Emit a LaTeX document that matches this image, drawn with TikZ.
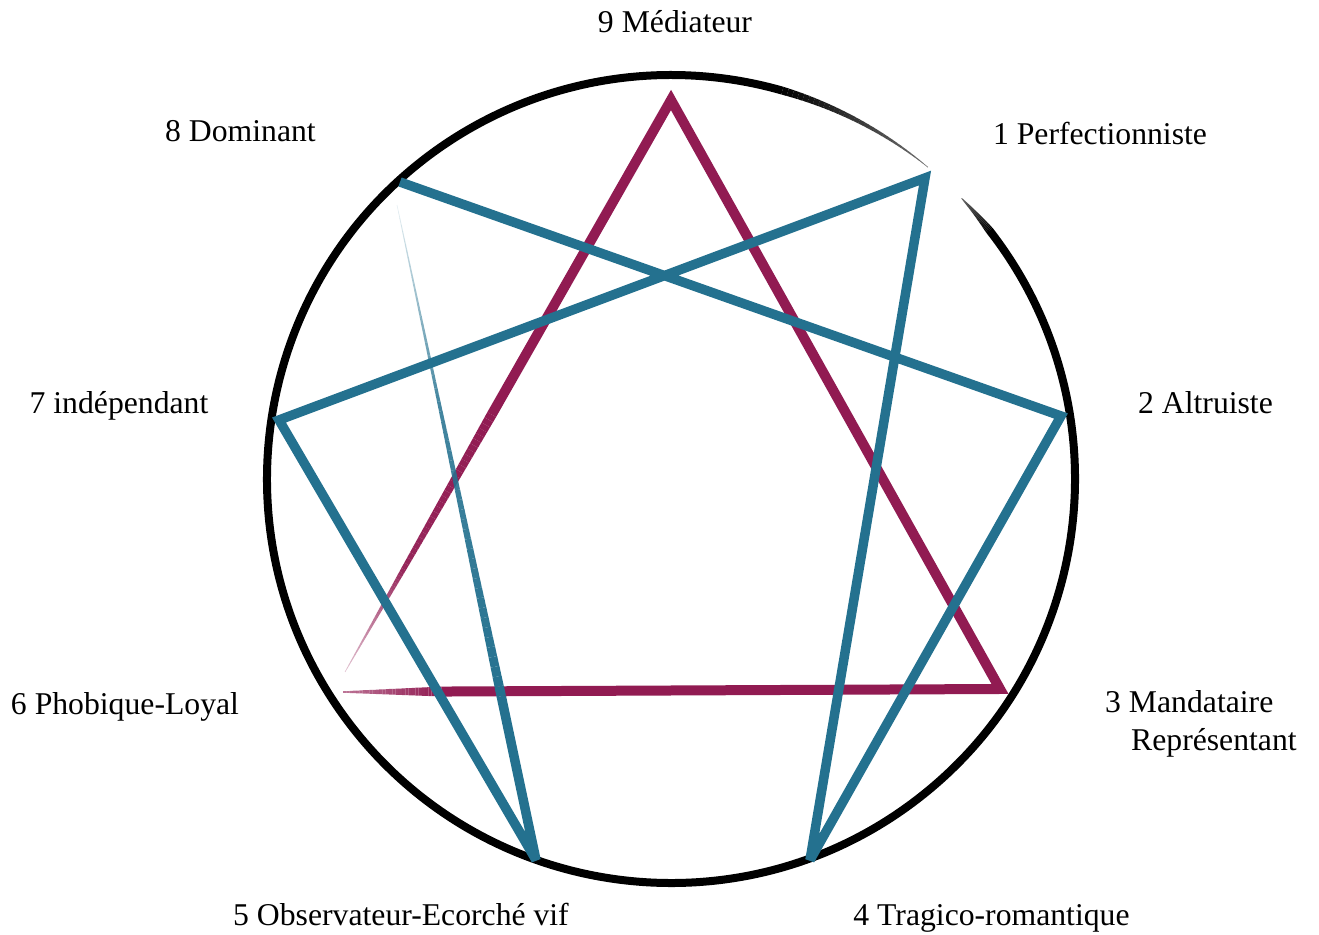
\documentclass[tikz,border=0pt]{standalone}
\usepackage{fontspec}
\setmainfont{Liberation Serif}
\usetikzlibrary{calc}
\definecolor{ennmaroon}{RGB}{145,27,82}
\definecolor{ennteal}{RGB}{36,113,143}
\newcommand\taperline[7]{%
  \foreach \k in {0,...,29}{%
    \pgfmathsetmacro\tA{\k/30}%
    \pgfmathsetmacro\tB{(\k+1)/30}%
    \pgfmathsetmacro\ww{#4+(#5-#4)*(\k+0.5)/30}%
    \pgfmathsetmacro\oo{#6+(#7-#6)*(\k+0.5)/30}%
    \draw[draw=#3, line width=\ww pt, draw opacity=\oo] ($(#1)!\tA!(#2)$) -- ($(#1)!\tB!(#2)$);
  }}
\newcommand\taperarc[6]{%
  \foreach \k in {0,...,29}{%
    \pgfmathsetmacro\aA{#1+(#2-#1)*\k/30}%
    \pgfmathsetmacro\dA{(#2-#1)/30}%
    \pgfmathsetmacro\ww{#3+(#4-#3)*(\k+0.5)/30}%
    \pgfmathsetmacro\oo{#5+(#6-#5)*(\k+0.5)/30}%
    \draw[black, line width=\ww pt, draw opacity=\oo] ($(c)+(\aA:404pt)$) arc[start angle=\aA, delta angle=\dA, radius=404pt];
  }}
\begin{document}
\begin{tikzpicture}[x=1pt,y=1pt,
  lbl/.style={font=\fontsize{31.7}{38}\selectfont, inner sep=0pt, anchor=base},
  lblw/.style={lbl, anchor=base west},
  tealline/.style={draw=ennteal, line width=9.5pt, line join=miter, miter limit=3},
  maroonline/.style={draw=ennmaroon, line width=10pt, line join=miter, miter limit=3},
  ring/.style={draw=black, line width=8pt}]
\useasboundingbox (0,0) rectangle (1319,934);
\coordinate (c) at (671,455);
% teal points
\coordinate (p1) at (925,756);
\coordinate (p2) at (1061,518);
\coordinate (p4) at (810,74);
\coordinate (p5) at (536,74);
\coordinate (p7) at (279,514);
\coordinate (p8) at (400,752);
\coordinate (p8b) at (397,729);
\coordinate (q0) at ($(p8b)!0.3!(p5)$);
\coordinate (q) at ($(p8b)!0.75!(p5)$);
% maroon points
\coordinate (m9) at (671,834);
\coordinate (m3) at (1000,245);
\coordinate (m6a) at (345,262);
\coordinate (m6b) at (343,242);
\coordinate (mA) at ($(m9)!0.55!(m6a)$);
\coordinate (mC) at ($(m9)!0.82!(m6a)$);
\coordinate (mB) at ($(m3)!0.85!(m6b)$);
% circle
\draw[ring] ($(c)+(38:404pt)$) arc[start angle=38, end angle=-286, radius=404pt];
\taperarc{74}{50.5}{8}{0.5}{1}{0.55}
\taperarc{44}{38}{0.8}{8}{0.6}{1}
% maroon triangle
\draw[maroonline] (mA) -- (m9) -- (m3) -- (mB);
\taperline{mA}{mC}{ennmaroon}{10}{5}{1}{0.95}
\taperline{mC}{m6a}{ennmaroon}{5}{0.6}{0.95}{0.25}
\taperline{mB}{m6b}{ennmaroon}{10}{1.5}{1}{0.6}
% teal hexad
\draw[tealline] (q) -- (p5) -- (p7) -- (p1) -- (p4) -- (p2) -- (p8);
\taperline{p8b}{q0}{ennteal}{0.6}{3.4}{0.1}{0.85}
\taperline{q0}{q}{ennteal}{3.4}{9.5}{0.85}{1}
% labels
\node[lbl] (l9) at (675,901) {9 Médiateur};
\node[lbl] (l8) at (240.5,792) {8 Dominant};
\node[lbl] (l1) at (1100,789) {1 Perfectionniste};
\node[lbl] (l7) at (119,520) {7 indépendant};
\node[lbl] (l2) at (1205.5,520) {2 Altruiste};
\node[lbl] (l6) at (125,219) {6 Phobique-Loyal};
\node[lblw] (l3a) at (1105,221) {3 Mandataire};
\node[lblw] (l3b) at (1131,183) {Représentant};
\node[lbl] (l5) at (401,9) {5 Observateur-Ecorché vif};
\node[lbl] (l4) at (991.5,9) {4 Tragico-romantique};
\end{tikzpicture}
\end{document}
